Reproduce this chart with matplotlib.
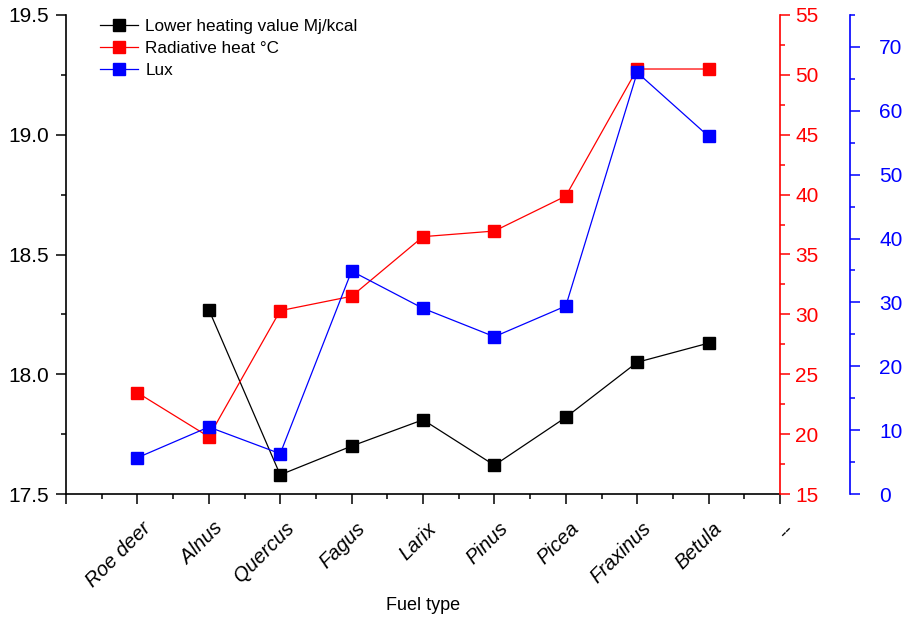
import matplotlib
matplotlib.use("Agg")
import matplotlib.pyplot as plt
from matplotlib.ticker import MultipleLocator, FixedLocator
from matplotlib.transforms import ScaledTranslation
import numpy as np

plt.rcParams['font.family'] = ['Liberation Sans', 'DejaVu Sans']

categories = ["Roe deer", "Alnus", "Quercus", "Fagus", "Larix", "Pinus",
              "Picea", "Fraxinus", "Betula", "--"]
lhv = [np.nan, 18.27, 17.58, 17.70, 17.81, 17.62, 17.82, 18.05, 18.13]
radiative = [23.46, 19.78, 30.31, 31.51, 36.49, 36.96, 39.88, 50.49, 50.49]
lux = [5.68, 10.49, 6.31, 34.9, 29.07, 24.63, 29.43, 66.0, 56.0]

x_all = np.arange(1, len(categories) + 1)
x = x_all[:len(lhv)]

W, H = 910, 619
fig = plt.figure(figsize=(W / 100, H / 100), dpi=100)
ax = fig.add_axes([66 / W, 1 - 494 / H, (780 - 66) / W, (494 - 15) / H])
ax2 = ax.twinx()
ax3 = ax.twinx()

lw_spine = 1.2
l1, = ax.plot(x, lhv, color='black', lw=0.9, marker='s', ms=8,
              label='Lower heating value Mj/kcal')
l2, = ax2.plot(x, radiative, color='red', lw=0.9, marker='s', ms=8,
               label='Radiative heat \u00b0C')
l3, = ax3.plot(x, lux, color='blue', lw=0.9, marker='s', ms=8, label='Lux')

ax.set_xlim(0, 10)
ax.set_ylim(17.5, 19.5)
ax2.set_ylim(15, 55)
ax3.set_ylim(0, 75)

for a in (ax, ax2, ax3):
    a.spines['top'].set_visible(False)
    for s in a.spines.values():
        s.set_linewidth(lw_spine)
ax.spines['right'].set_visible(False)
ax2.spines['left'].set_visible(False)
ax3.spines['left'].set_visible(False)
ax2.spines['bottom'].set_visible(False)
ax3.spines['bottom'].set_visible(False)
ax2.spines['right'].set_color('red')
ax3.spines['right'].set_color('blue')
ax3.spines['right'].set_position(('axes', (850 - 66) / (780 - 66)))

TS = 15
# left axis
ax.yaxis.set_major_locator(MultipleLocator(0.5))
ax.yaxis.set_minor_locator(MultipleLocator(0.25))
ax.yaxis.set_major_formatter(matplotlib.ticker.FormatStrFormatter('%.1f'))
ax.tick_params(axis='y', which='major', length=7, width=1.1, labelsize=TS, pad=5)
ax.tick_params(axis='y', which='minor', length=3.5, width=1.1)

# x axis
ax.xaxis.set_major_locator(FixedLocator(np.arange(0, 11)))
ax.xaxis.set_minor_locator(FixedLocator(np.arange(0.5, 10, 1)))
ax.set_xticklabels([''] + categories)
ax.tick_params(axis='x', which='major', length=7, width=1.1, labelsize=14.5, pad=11)
ax.tick_params(axis='x', which='minor', length=3.5, width=1.1)
offset = ScaledTranslation(0.04, 0.0, fig.dpi_scale_trans)
for lab in ax.get_xticklabels():
    lab.set_rotation(45)
    lab.set_ha('right')
    lab.set_va('top')
    lab.set_rotation_mode('anchor')
    lab.set_style('italic')
    lab.set_transform(lab.get_transform() + offset)
ax.set_xlabel('Fuel type', fontsize=13, labelpad=4)

# red axis
ax2.yaxis.set_major_locator(MultipleLocator(5))
ax2.yaxis.set_minor_locator(MultipleLocator(2.5))
ax2.tick_params(axis='y', which='major', length=7, width=1.1, labelsize=TS,
                colors='red', pad=4)
ax2.tick_params(axis='y', which='minor', length=3.5, width=1.1, colors='red')

# blue axis
ax3.yaxis.set_major_locator(MultipleLocator(10))
ax3.yaxis.set_minor_locator(MultipleLocator(5))
ax3.tick_params(axis='y', which='major', length=7, width=1.1, labelsize=TS,
                colors='blue', pad=14)
ax3.tick_params(axis='y', which='minor', length=3.5, width=1.1, colors='blue')

leg = fig.legend(handles=[l1, l2, l3], loc='upper left',
                 bbox_to_anchor=(100 / W, 1 - 19 / H), frameon=False,
                 fontsize=12.3, handlelength=2.2, handletextpad=0.45,
                 labelspacing=0.4, borderpad=0, borderaxespad=0)

fig.savefig('out.png', dpi=100)
